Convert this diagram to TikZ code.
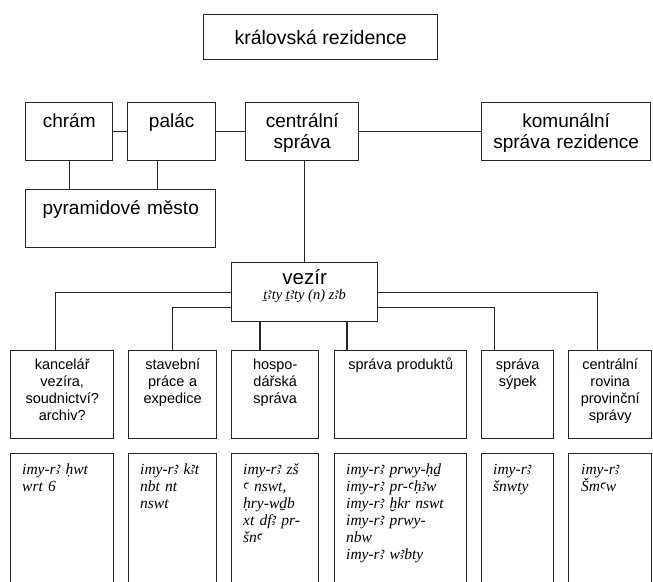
\documentclass[tikz,border=0pt]{standalone}
\usepackage{fontspec}
\setmainfont{Liberation Sans}
\newfontfamily\translit{Liberation Serif}
\newfontfamily\egfont{Noto Sans}
\newcommand\alf{{\egfont\itshape ꜣ}}
\newcommand\ayn{{\egfont\itshape ꜥ}}
\usetikzlibrary{calc}
\begin{document}
\begin{tikzpicture}[x=1pt,y=-1pt,
  box/.style={draw=black!85, line width=1.4pt, inner sep=0pt, anchor=north west},
  conn/.style={draw=black!85, line width=1.4pt},
  bigl/.style={font=\fontsize{19}{21}\selectfont, align=center, inner sep=0pt, anchor=base},
  midl/.style={font=\fontsize{14.5}{17.3}\selectfont, align=center, inner sep=0pt, anchor=base},
  trl/.style={font=\translit\itshape\fontsize{15.5}{17}\selectfont, align=left, inner sep=0pt, anchor=base west, text width=140pt},
]
\useasboundingbox (0,0) rectangle (653,581);
\clip (0,0) rectangle (653,581);
\fill[white] (0,0) rectangle (653,581);

% top
\node[box, minimum width=234pt, minimum height=45pt, font=\fontsize{19.5}{21}\selectfont] (kral) at (203,14) {královská rezidence};

% row 2
\node[box, minimum width=87pt, minimum height=58pt] (chram) at (25,102) {};
\node[box, minimum width=88pt, minimum height=58pt] (palac) at (127,102) {};
\node[box, minimum width=113pt, minimum height=58pt] (central) at (245,102) {};
\node[box, minimum width=169pt, minimum height=58pt] (komun) at (481,102) {};
\node[box, minimum width=190pt, minimum height=58pt] (pyr) at (25,189) {};
\node[bigl, text width=87pt] (chram-t) at ($(chram.north)+(0,25)$) {chrám};
\node[bigl, text width=88pt] (palac-t) at ($(palac.north)+(0,25)$) {palác};
\node[bigl, text width=113pt] (central-t) at ($(central.north)+(0,25)$) {centrální\\správa};
\node[bigl, text width=169pt] (komun-t) at ($(komun.north)+(0,25)$) {komunální\\správa rezidence};
\node[bigl, text width=190pt] (pyr-t) at ($(pyr.north)+(0,25)$) {pyramidové město};

% vezir
\node[box, minimum width=146pt, minimum height=59pt] (vezir) at (231,262) {};
\node[font=\fontsize{20.5}{22}\selectfont, inner sep=0pt, anchor=base] (vezir-t) at ($(vezir.north)+(0,22)$) {vezír};
\node[font=\translit\itshape\fontsize{14.5}{16}\selectfont, inner sep=0pt, anchor=base] (vezir-s) at ($(vezir.north)+(0,37.5)$) {ṯ\alf ty ṯ\alf ty (n) z\alf b};

% row 3
\node[box, minimum width=103pt, minimum height=88pt] (kanc) at (10,350) {};
\node[box, minimum width=88pt, minimum height=88pt] (stav) at (128,350) {};
\node[box, minimum width=87pt, minimum height=88pt] (hosp) at (231,350) {};
\node[box, minimum width=132pt, minimum height=88pt] (prod) at (334,350) {};
\node[box, minimum width=72pt, minimum height=88pt] (sypek) at (481,350) {};
\node[box, minimum width=83pt, minimum height=88pt] (prov) at (568,350) {};
\node[midl, text width=103pt] (kanc-t) at ($(kanc.north)+(0,19)$) {kancelář\\vezíra,\\soudnictví?\\archiv?};
\node[midl, text width=88pt] (stav-t) at ($(stav.north)+(0,19)$) {stavební\\práce a\\expedice};
\node[midl, text width=87pt] (hosp-t) at ($(hosp.north)+(0,19)$) {hospo-\\dářská\\správa};
\node[midl, text width=132pt] (prod-t) at ($(prod.north)+(0,19)$) {správa produktů};
\node[midl, text width=72pt] (sypek-t) at ($(sypek.north)+(0,19)$) {správa\\sýpek};
\node[midl, text width=83pt] (prov-t) at ($(prov.north)+(0,19)$) {centrální\\rovina\\provinční\\správy};

% row 4
\node[box, minimum width=103pt, minimum height=160pt] (kanc4) at (10,453) {};
\node[box, minimum width=88pt, minimum height=160pt] (stav4) at (128,453) {};
\node[box, minimum width=87pt, minimum height=160pt] (hosp4) at (231,453) {};
\node[box, minimum width=132pt, minimum height=160pt] (prod4) at (334,453) {};
\node[box, minimum width=72pt, minimum height=160pt] (sypek4) at (481,453) {};
\node[box, minimum width=83pt, minimum height=160pt] (prov4) at (568,453) {};
\node[trl] (kanc4-t) at ($(kanc4.north west)+(12,21)$) {imy-r\alf{} ḥwt\\wrt 6};
\node[trl] (stav4-t) at ($(stav4.north west)+(12,21)$) {imy-r\alf{} k\alf t\\nbt nt\\nswt};
\node[trl] (hosp4-t) at ($(hosp4.north west)+(12,21)$) {imy-r\alf{} zš\\\ayn{} nswt,\\ḥry-wḏb\\xt df\alf{} pr-\\šn\ayn};
\node[trl] (prod4-t) at ($(prod4.north west)+(12,21)$) {imy-r\alf{} prwy-ḥḏ\\imy-r\alf{} pr-\ayn ḥ\alf w\\imy-r\alf{} ḫkr nswt\\imy-r\alf{} prwy-\\nbw\\imy-r\alf{} w\alf bty};
\node[trl] (sypek4-t) at ($(sypek4.north west)+(12,21)$) {imy-r\alf\\šnwty};
\node[trl] (prov4-t) at ($(prov4.north west)+(13,21)$) {imy-r\alf\\Šm\ayn w};

% connectors
\draw[conn] (chram) -- (palac);
\draw[conn] (palac) -- (central);
\draw[conn] (central) -- (komun);
\draw[conn] (chram.south) -- (chram.south |- pyr.north);
\draw[conn] ([xshift=-14pt]palac.south) -- ([xshift=-14pt]palac.south |- pyr.north);
\draw[conn] (vezir.north) -- (vezir.north |- central.south);
\draw[conn] (vezir.west) -| ([xshift=-6.5pt]kanc.north);
\draw[conn] ([yshift=-15pt]vezir.west) -| (stav.north);
\draw[conn] ([xshift=29pt]vezir.south west) -- ([xshift=29pt]vezir.south west |- hosp.north);
\draw[conn] ([xshift=116pt]vezir.south west) -- ([xshift=116pt]vezir.south west |- prod.north);
\draw[conn] ([yshift=-15pt]vezir.east) -| ([xshift=-23pt]sypek.north);
\draw[conn] (vezir.east) -| ([xshift=-12.5pt]prov.north);
\end{tikzpicture}
\end{document}
